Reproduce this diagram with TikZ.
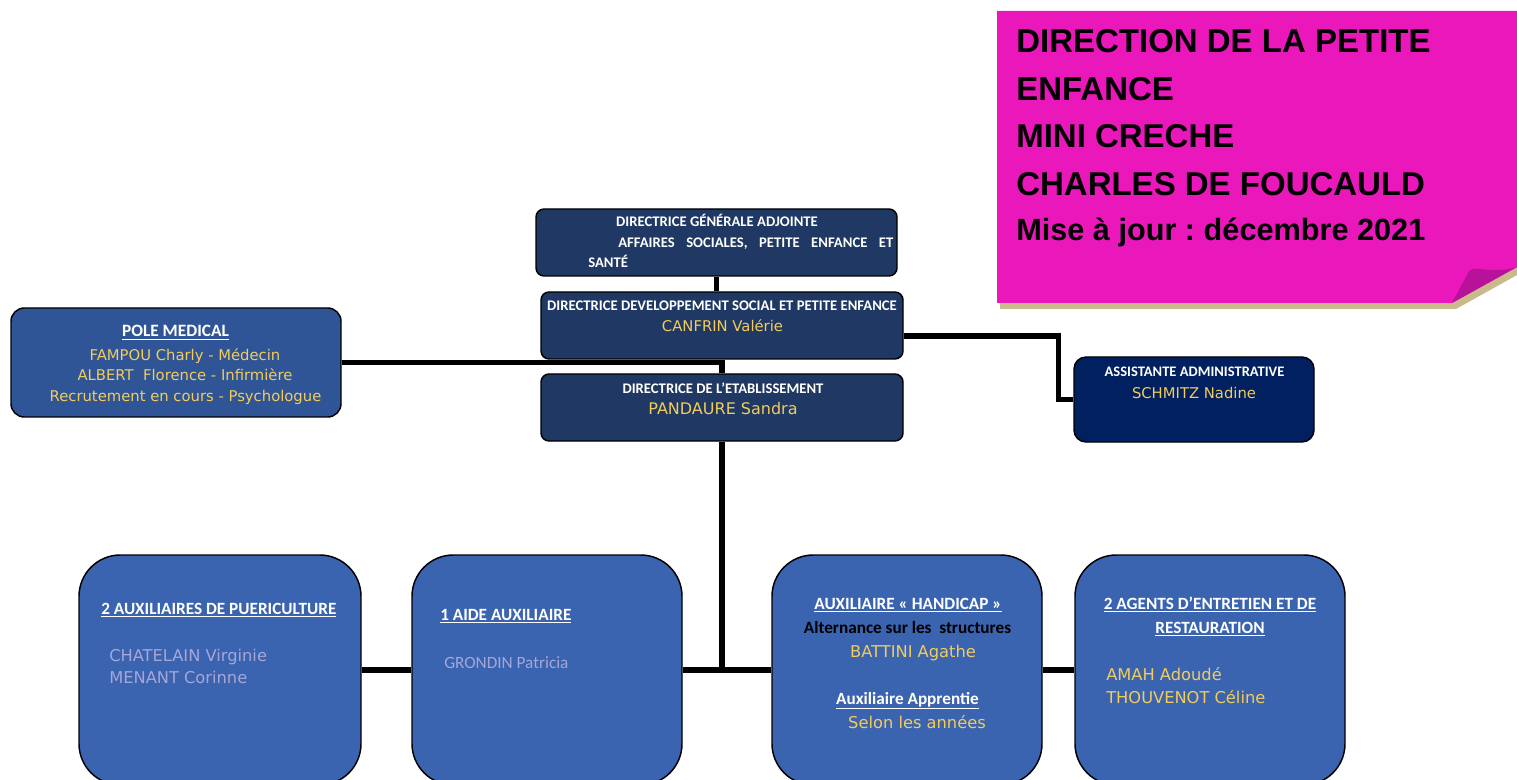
\documentclass[tikz,border=0pt]{standalone}
\usepackage{fontspec}
\setmainfont{Carlito}
\newfontfamily\verd{DejaVu Sans}
\newfontfamily\arialf{Liberation Sans}
\usetikzlibrary{calc}
\frenchspacing
\definecolor{navy}{HTML}{1F3864}
\definecolor{deepnavy}{HTML}{002060}
\definecolor{midblue}{HTML}{2F5597}
\definecolor{boxblue}{HTML}{3A63B0}
\definecolor{gold}{HTML}{F2CC5C}
\definecolor{lav}{HTML}{A6A6D8}
\definecolor{pinknote}{HTML}{EA18BA}
\definecolor{pinkdark}{HTML}{B8129A}
\definecolor{tanshadow}{HTML}{C9B98B}
\begin{document}
\begin{tikzpicture}[x=0.75pt,y=-0.75pt,
  boxbase/.style={draw=black, line width=1.1pt, inner sep=0pt},
  topbox/.style={boxbase, fill=navy, rounded corners=6pt, minimum width=362*0.75pt, minimum height=67*0.75pt},
  bigbox/.style={boxbase, fill=boxblue, rounded corners=31pt, minimum width=270*0.75pt, minimum height=230*0.75pt},
  conn/.style={line width=3.8pt, black},
  lab/.style={font=\bfseries\fontsize{11}{13}\selectfont, text=white, inner sep=0pt},
  labB/.style={font=\bfseries\fontsize{12.9}{15}\selectfont, text=white, inner sep=0pt},
  nm/.style={font=\verd\fontsize{11.1}{13}\selectfont, text=gold, inner sep=0pt},
  nmB/.style={font=\verd\fontsize{12.2}{14}\selectfont, text=gold, inner sep=0pt},
  ttl/.style={font=\arialf\bfseries\fontsize{24.75}{28}\selectfont, text=black, inner sep=0pt, anchor=base west}
]
\useasboundingbox (0,0) rectangle (1517,780);
\fill[white] (0,0) rectangle (1517,780);
\begin{scope}
\clip (0,0) rectangle (1517,780);

% pink note
\fill[tanshadow] (1000,303) -- (1452,303) -- (1517,267) -- (1517,275) -- (1456,309) -- (1000,309) -- cycle;
\fill[pinknote] (997,11) -- (1517,11) -- (1517,267) -- (1452,303) -- (997,303) -- cycle;
\fill[pinkdark] (1452,303) -- (1468,273) .. controls (1470,269) and (1474,268) .. (1480,269) .. controls (1495,271) and (1508,270) .. (1517,267) -- cycle;
\node[ttl] (t1) at (1016,53) {DIRECTION DE LA PETITE};
\node[ttl] (t2) at (1016,101) {ENFANCE};
\node[ttl] (t3) at (1016,148) {MINI CRECHE};
\node[ttl] (t4) at (1016,196) {CHARLES DE FOUCAULD};
\node[ttl, font=\arialf\bfseries\fontsize{23}{26}\selectfont] (t5) at (1016,241) {Mise à jour : décembre 2021};

% boxes
\node[topbox, minimum width=361*0.75pt] (dga) at (716.5,242.5) {};
\node[topbox] (dds) at (722,325.5) {};
\node[topbox] (de) at (722,407.5) {};
\node[boxbase, fill=midblue, rounded corners=10pt, minimum width=330*0.75pt, minimum height=109*0.75pt] (pole) at (176,362.5) {};
\node[boxbase, fill=deepnavy, rounded corners=9pt, minimum width=240*0.75pt, minimum height=85*0.75pt] (asst) at (1194,399.5) {};
\node[bigbox, minimum width=282*0.75pt] (b1) at (220,670) {};
\node[bigbox] (b2) at (547,670) {};
\node[bigbox] (b3) at (907,670) {};
\node[bigbox] (b4) at (1210,670) {};

% connectors
\draw[conn] (dga.south) -- (dga.south |- dds.north);
\draw[conn] (dds.south) -- (de.north);
\draw[conn] (pole.east) -- (pole.east -| de.north);
\draw[conn] ($(dds.east)+(0,10.5)$) -- ++(155,0) |- (asst.west);
\draw[conn] (de.south) -- (de.south |- b2.east);
\draw[conn] (b1.east) -- (b2.west);
\draw[conn] (b2.east) -- (b3.west);
\draw[conn] (b3.east) -- (b4.west);

% DGA
\node[lab, anchor=base] (dgaA) at (717,227) {DIRECTRICE GÉNÉRALE ADJOINTE};
\node[lab, anchor=base west] (dgaB) at (618,248) {\makebox[206.25pt][s]{AFFAIRES SOCIALES, PETITE ENFANCE ET}};
\node[lab, anchor=base west] (dgaC) at (588,268) {SANTÉ};
% DDS
\node[lab, anchor=base] (ddsA) at (722,311) {DIRECTRICE DEVELOPPEMENT SOCIAL ET PETITE ENFANCE};
\node[nm, anchor=base] (ddsB) at (722.5,332) {CANFRIN Valérie};
% DE
\node[lab, anchor=base] (deA) at (723,393) {DIRECTRICE DE L’ETABLISSEMENT};
\node[nm, font=\verd\fontsize{12}{14}\selectfont, anchor=base] (deB) at (723,415) {PANDAURE Sandra};
% pole
\node[lab, font=\bfseries\fontsize{13}{15}\selectfont, anchor=base] (poleA) at (175.5,337) {\underline{POLE MEDICAL}};
\node[nm, anchor=base] (poleB) at (185,361) {FAMPOU Charly - Médecin};
\node[nm, anchor=base] (poleC) at (185,381) {ALBERT\ \ Florence - Infirmière};
\node[nm, anchor=base] (poleD) at (185.5,402) {Recrutement en cours - Psychologue};
% assistante
\node[lab, font=\bfseries\fontsize{10.9}{13}\selectfont, anchor=base] (asstA) at (1194.5,377) {ASSISTANTE ADMINISTRATIVE};
\node[nm, anchor=base] (asstB) at (1194,399) {SCHMITZ Nadine};
% b1
\node[labB, anchor=base west] (b1A) at (101,614) {\underline{2 AUXILIAIRES DE PUERICULTURE}};
\node[nmB, text=lav, anchor=base west] (b1B) at (109,661) {CHATELAIN Virginie};
\node[nmB, text=lav, anchor=base west] (b1C) at (109,683) {MENANT Corinne};
% b2
\node[labB, anchor=base west] (b2A) at (440,620) {\underline{1 AIDE AUXILIAIRE}};
\node[font=\fontsize{12.9}{15}\selectfont, text=lav, inner sep=0pt, anchor=base west] (b2B) at (444,668) {GRONDIN Patricia};
% b3
\node[labB, anchor=base] (b3A) at (908,609) {\underline{AUXILIAIRE « HANDICAP »}};
\node[labB, text=black, anchor=base] (b3B) at (907.5,633) {Alternance sur les\ \ structures};
\node[nmB, anchor=base] (b3C) at (913,657) {BATTINI Agathe};
\node[labB, anchor=base] (b3D) at (907.5,704) {\underline{Auxiliaire Apprentie}};
\node[nmB, anchor=base] (b3E) at (917,728) {Selon les années};
% b4
\node[labB, anchor=base] (b4A) at (1210,609) {\underline{2 AGENTS D’ENTRETIEN ET DE}};
\node[labB, anchor=base] (b4B) at (1210,633) {\underline{RESTAURATION}};
\node[nmB, anchor=base west] (b4C) at (1106,680) {AMAH Adoudé};
\node[nmB, anchor=base west] (b4D) at (1106,703) {THOUVENOT Céline};
\end{scope}
\end{tikzpicture}
\end{document}
